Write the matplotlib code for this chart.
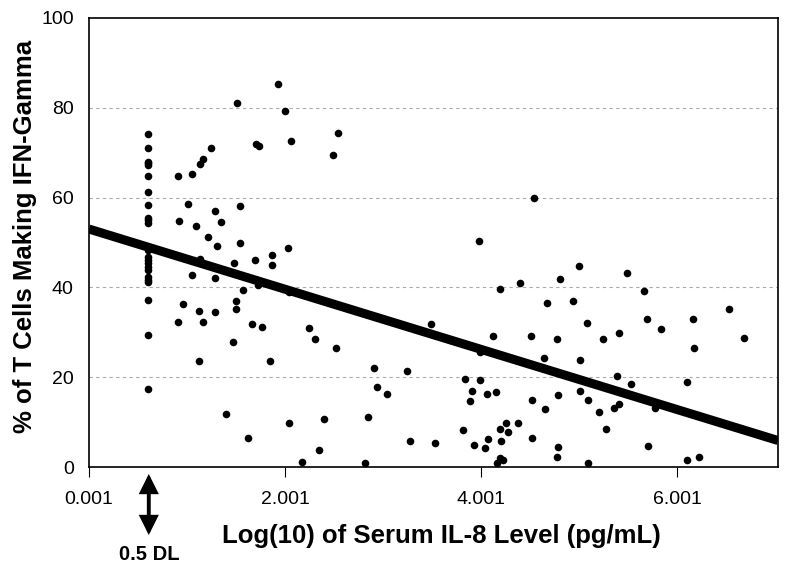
import matplotlib
matplotlib.use("Agg")
import matplotlib.pyplot as plt
import matplotlib.transforms as mtrans
import numpy as np

# Data: log10 serum IL-8 (x) vs % of T cells making IFN-gamma (y)
dl_x = 0.6
dl_y = [74.1, 71.1, 68.0, 67.6, 67.3, 64.9, 61.3, 58.3, 55.4, 54.9, 54.4,
        48.3, 46.8, 46.1, 45.4, 44.6, 43.9, 42.4, 41.7, 41.1, 37.3, 29.3, 17.3]

x_vals = [0.91, 1.05, 1.13, 1.16, 1.24, 1.51, 1.70, 1.73, 1.93, 2.00, 2.06, 2.49, 2.54,
          0.915, 1.01, 1.09, 1.21, 1.29, 1.35, 1.31, 1.54, 1.54, 2.03,
          4.54, 3.98,
          1.13, 1.05, 1.29, 1.48, 1.69, 1.87, 1.87, 1.72, 1.57, 2.04, 0.96, 1.12, 1.29,
          1.50, 1.50, 0.91, 1.16, 1.66, 1.77, 1.47, 1.12, 1.85, 2.24, 2.31, 2.52,
          1.40, 2.04, 2.40, 1.62, 2.35, 2.17,
          4.19, 4.40, 4.81, 4.67, 3.49, 4.12, 4.51, 4.78, 3.99, 4.64,
          2.91, 2.94, 3.04, 3.24, 3.84, 3.99, 3.91, 3.89, 4.06, 4.15, 4.52, 4.65, 4.79,
          2.85, 2.82, 3.28, 3.53, 3.82, 3.93, 4.04, 4.07, 4.19, 4.25, 4.28, 4.38, 4.20,
          4.16, 4.19, 4.22, 4.52, 4.79, 4.78,
          5.00, 5.49, 5.66, 4.94, 5.08, 5.24, 5.41, 5.69, 5.84, 6.16, 6.53, 6.68, 6.17,
          5.01, 5.39, 5.53, 6.10, 5.01, 5.09, 5.20, 5.36, 5.41, 5.77, 5.28, 5.09, 5.70,
          6.10, 6.22]
y_vals = [64.9, 65.3, 67.4, 68.7, 71.1, 81.0, 71.9, 71.6, 85.4, 79.3, 72.7, 69.5, 74.3,
          54.7, 58.6, 53.6, 51.2, 57.1, 54.6, 49.2, 58.2, 50.0, 48.7,
          60.0, 50.4,
          46.3, 42.7, 42.2, 45.4, 46.0, 47.2, 45.1, 40.5, 39.4, 39.0, 36.3, 34.8, 34.6,
          36.9, 35.1, 32.3, 32.4, 31.8, 31.2, 27.9, 23.5, 23.5, 31.0, 28.4, 26.4,
          11.7, 9.7, 10.8, 6.5, 3.7, 1.1,
          39.6, 41.0, 41.8, 36.6, 31.9, 29.1, 29.1, 28.4, 25.6, 24.2,
          22.0, 17.9, 16.3, 21.3, 19.5, 19.4, 17.0, 14.6, 16.3, 16.6, 14.9, 12.9, 16.0,
          11.1, 1.0, 5.9, 5.3, 8.2, 4.9, 4.3, 6.2, 8.4, 9.7, 7.7, 9.7, 5.7,
          1.0, 2.1, 1.6, 6.4, 4.5, 2.2,
          44.8, 43.2, 39.2, 37.0, 32.0, 28.6, 29.9, 32.9, 30.8, 32.9, 35.2, 28.8, 26.6,
          23.8, 20.3, 18.4, 18.9, 16.9, 14.9, 12.3, 13.1, 14.0, 13.1, 8.5, 0.9, 4.7,
          1.6, 2.3]

fit_intercept = 53.0
fit_slope = -6.7

x_ticks = [0.001, 2.001, 4.001, 6.001]
x_tick_labels = ["0.001", "2.001", "4.001", "6.001"]
y_ticks = [0, 20, 40, 60, 80, 100]

plt.rcParams['font.family'] = ['Liberation Sans', 'DejaVu Sans']

fig = plt.figure(figsize=(7.88, 5.73), dpi=100)
ax = fig.add_axes([89/788, 1-467/573, (778-89)/788, (467-18)/573])

xmin, xmax = 0.0, 7.03
ax.set_xlim(xmin, xmax)
ax.set_ylim(0, 100)

for g in [20, 40, 60, 80]:
    ax.axhline(g, color='#aaaaaa', lw=0.8, ls=(0, (3, 3)), zorder=1)

all_x = [dl_x] * len(dl_y) + x_vals
all_y = dl_y + y_vals
ax.scatter(all_x, all_y, s=30, color='black', zorder=3, linewidths=0)

fx = np.array([xmin, xmax])
ax.plot(fx, fit_intercept + fit_slope * fx, color='black', lw=6.5,
        solid_capstyle='butt', zorder=4)

ax.set_xticks(x_ticks)
ax.set_xticklabels(x_tick_labels, fontsize=14)
ax.set_yticks(y_ticks)
ax.set_yticklabels([str(v) for v in y_ticks], fontsize=14)
ax.tick_params(axis='x', direction='out', length=7, width=0.8, pad=10)
ax.tick_params(axis='y', length=0, pad=11)
for sp in ax.spines.values():
    sp.set_linewidth(1.2)
    sp.set_color('black')

ax.set_xlabel("Log(10) of Serum IL-8 Level (pg/mL)", fontsize=18.5,
              fontweight='bold')
ax.xaxis.set_label_coords((441-89)/689, (467-524)/449)
ax.xaxis.label.set_va('top')
ax.set_ylabel("% of T Cells Making IFN-Gamma", fontsize=18.5,
              fontweight='bold')
ax.yaxis.set_label_coords((37-89)/689, (467-236)/449)

blend = mtrans.blended_transform_factory(ax.transData, fig.transFigure)
ax.annotate('', xy=(0.61, 1-474/573), xytext=(0.61, 1-535/573),
            xycoords=blend, textcoords=blend,
            arrowprops=dict(arrowstyle='<|-|>,head_length=0.5,head_width=0.25',
                            lw=2.8, color='black', joinstyle='miter',
                            mutation_scale=20, shrinkA=0, shrinkB=0),
            annotation_clip=False)
ax.text(0.61, 1-555/573, "0.5 DL", transform=blend,
        ha='center', va='center', fontsize=14.5, fontweight='bold')

fig.savefig("out.png", dpi=100)
